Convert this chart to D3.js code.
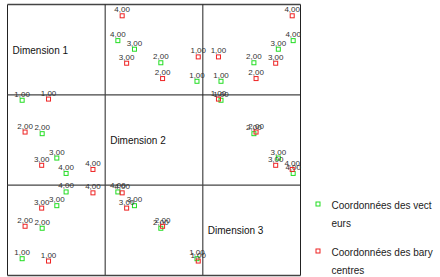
<!DOCTYPE html>
<html>
<head>
<meta charset="utf-8">
<script src="https://cdn.jsdelivr.net/npm/d3@7"></script>
<style>
  body { margin: 0; background: #fff; }
  svg { display: block; font-family: "Liberation Sans", Arial, sans-serif; }
</style>
</head>
<body>
<div id="chart"></div>
<script>
// category labels shown next to each point
let categories = ["1,00", "2,00", "3,00", "4,00"];
let dimensions = ["Dimension 1", "Dimension 2", "Dimension 3"];

// coordinates (common scale 0..1)
let vecteursDim1 = [0.15, 0.355, 0.505, 0.60];
let vecteursDim2 = [0.94, 0.57, 0.30, 0.13];
let vecteursDim3 = [0.186, 0.523, 0.773, 0.925];

let barycentresDim1 = [0.42, 0.18, 0.35, 0.875];
let barycentresDim2 = [0.953, 0.588, 0.22, 0.174];
let barycentresDim3 = [0.16, 0.545, 0.746, 0.915];

let legendLabels = [["Coordonnées des vect", "eurs"], ["Coordonnées des bary", "centres"]];

let series = [
  {name: "vecteurs", color: "#22dd22", dims: [vecteursDim1, vecteursDim2, vecteursDim3]},
  {name: "barycentres", color: "#ee2222", dims: [barycentresDim1, barycentresDim2, barycentresDim3]}
];

let chartWidth = 440, chartHeight = 277;
let box = {left: 7.5, right: 300.5, top: 4.5, bottom: 275.5};
let n = dimensions.length;
let cellW = (box.right - box.left) / n;
let cellH = (box.bottom - box.top) / n;

let svg = d3.select("#chart").append("svg")
  .attr("width", chartWidth)
  .attr("height", chartHeight);

let xScale = d3.scaleLinear().domain([0, 1]).range([0, cellW]);
let yScale = d3.scaleLinear().domain([0, 1]).range([cellH, 0]);

// grid lines of the matrix
for (let i = 0; i <= n; ++i) {
  svg.append("line")
    .attr("x1", box.left + i * cellW).attr("x2", box.left + i * cellW)
    .attr("y1", box.top).attr("y2", box.bottom)
    .attr("stroke", "#222").attr("stroke-width", 1);
  svg.append("line")
    .attr("x1", box.left).attr("x2", box.right)
    .attr("y1", box.top + i * cellH).attr("y2", box.top + i * cellH)
    .attr("stroke", "#444").attr("stroke-width", 1.3);
}

for (let row = 0; row < n; ++row) {
  for (let col = 0; col < n; ++col) {
    let cell = svg.append("g")
      .attr("transform", "translate(" + (box.left + col * cellW) + "," + (box.top + row * cellH) + ")");

    if (row === col) {
      cell.append("text")
        .attr("x", 5)
        .attr("y", cellH / 2 + 4)
        .attr("font-size", 10)
        .attr("fill", "#111")
        .text(dimensions[row]);
      continue;
    }

    for (let s of series) {
      let pts = categories.map((c, k) => ({label: c, x: s.dims[col][k], y: s.dims[row][k]}));

      cell.selectAll(null)
        .data(pts)
        .enter()
        .append("rect")
        .attr("x", d => xScale(d.x) - 2)
        .attr("y", d => yScale(d.y) - 2)
        .attr("width", 4)
        .attr("height", 4)
        .attr("fill", "none")
        .attr("stroke", s.color)
        .attr("stroke-width", 1);

      cell.selectAll(null)
        .data(pts)
        .enter()
        .append("text")
        .attr("x", d => xScale(d.x))
        .attr("y", d => yScale(d.y) - 3.5)
        .attr("text-anchor", "middle")
        .attr("font-size", 8)
        .attr("fill", "#333")
        .text(d => d.label);
    }
  }
}

// legend
let legend = svg.append("g").attr("transform", "translate(318, 204)");
series.forEach((s, i) => {
  let g = legend.append("g").attr("transform", "translate(0," + (i * 47) + ")");
  g.append("rect")
    .attr("x", -2).attr("y", -2)
    .attr("width", 4).attr("height", 4)
    .attr("fill", "none")
    .attr("stroke", s.color);
  legendLabels[i].forEach((t, j) => {
    g.append("text")
      .attr("x", 13.5)
      .attr("y", 4.5 + j * 18.3)
      .attr("font-size", 10)
      .attr("fill", "#222")
      .text(t);
  });
});
</script>
</body>
</html>
